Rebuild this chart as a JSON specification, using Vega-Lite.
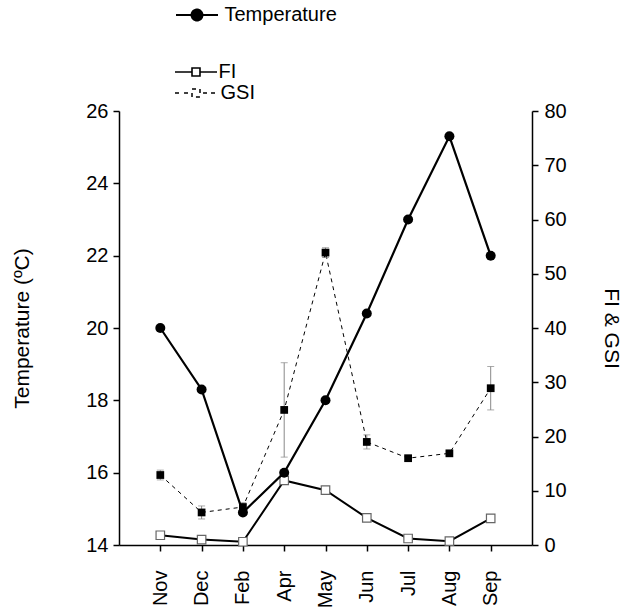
{
  "$schema": "https://vega.github.io/schema/vega-lite/v6.json",
  "width": 413,
  "height": 434,
  "autosize": {"type": "none"},
  "padding": {"left": 119, "top": 111, "right": 97, "bottom": 67},
  "background": "white",
  "data": {
    "values": [
      {"month": "Nov", "series": "Temperature", "value": 20.0, "err": 0},
      {"month": "Dec", "series": "Temperature", "value": 18.3, "err": 0},
      {"month": "Feb", "series": "Temperature", "value": 14.9, "err": 0},
      {"month": "Apr", "series": "Temperature", "value": 16.0, "err": 0},
      {"month": "May", "series": "Temperature", "value": 18.0, "err": 0},
      {"month": "Jun", "series": "Temperature", "value": 20.4, "err": 0},
      {"month": "Jul", "series": "Temperature", "value": 23.0, "err": 0},
      {"month": "Aug", "series": "Temperature", "value": 25.3, "err": 0},
      {"month": "Sep", "series": "Temperature", "value": 22.0, "err": 0},
      {"month": "Nov", "series": "FI", "value": 1.8, "err": 0},
      {"month": "Dec", "series": "FI", "value": 1.0, "err": 0},
      {"month": "Feb", "series": "FI", "value": 0.6, "err": 0},
      {"month": "Apr", "series": "FI", "value": 11.9, "err": 0},
      {"month": "May", "series": "FI", "value": 10.1, "err": 0},
      {"month": "Jun", "series": "FI", "value": 5.0, "err": 0},
      {"month": "Jul", "series": "FI", "value": 1.2, "err": 0},
      {"month": "Aug", "series": "FI", "value": 0.7, "err": 0},
      {"month": "Sep", "series": "FI", "value": 4.9, "err": 0},
      {"month": "Nov", "series": "GSI", "value": 12.9, "err": 0.9},
      {"month": "Dec", "series": "GSI", "value": 6.0, "err": 1.2},
      {"month": "Feb", "series": "GSI", "value": 7.0, "err": 0.8},
      {"month": "Apr", "series": "GSI", "value": 24.9, "err": 8.7},
      {"month": "May", "series": "GSI", "value": 53.9, "err": 0.9},
      {"month": "Jun", "series": "GSI", "value": 19.0, "err": 1.3},
      {"month": "Jul", "series": "GSI", "value": 16.0, "err": 0.5},
      {"month": "Aug", "series": "GSI", "value": 16.9, "err": 0.4},
      {"month": "Sep", "series": "GSI", "value": 28.9, "err": 4.0}
    ]
  },
  "layer": [
    {
      "layer": [
        {
          "transform": [{"filter": "datum.series === 'FI'"}],
          "mark": {"type": "line", "strokeWidth": 2},
          "encoding": {
            "x": {"field": "month", "type": "ordinal", "title": null, "scale": {"type": "point", "domain": ["Nov", "Dec", "Feb", "Apr", "May", "Jun", "Jul", "Aug", "Sep"], "padding": 1},
              "axis": {"labelAngle": -90, "labelPadding": 19, "labelOverlap": false, "labelFlush": false}},
            "y": {"field": "value", "type": "quantitative", "title": "FI & GSI", "scale": {"domain": [0, 80], "nice": false},
              "axis": {"orient": "right", "values": [0, 10, 20, 30, 40, 50, 60, 70, 80], "titleAngle": 90, "titlePadding": 34, "labelPadding": 6, "labelOverlap": false, "labelFlush": false}},
            "color": {"field": "series", "type": "nominal", "scale": {"domain": ["FI"], "range": ["black"]},
              "legend": {
                "orient": "none", "legendX": 65.5, "legendY": -50.5, "title": null, "padding": 0,
                "symbolSize": 441, "labelOffset": 11, "labelFontSize": 20, "labelFont": "Liberation Sans", "labelColor": "black",
                "symbolType": "M-2,0H-0.38M0.38,0H2M-0.38,-0.38H0.38V0.38H-0.38Z",
                "encode": {"symbols": {"update": {
                  "fill": {"value": "white"},
                  "stroke": {"value": "black"},
                  "strokeWidth": {"value": 1.6},
                  "strokeDash": {"value": [1, 0]}
                }}}
              }}
          }
        },
        {
          "transform": [{"filter": "datum.series === 'GSI'"}],
          "mark": {"type": "line", "strokeWidth": 1, "color": "black"},
          "encoding": {
            "x": {"field": "month", "type": "ordinal", "title": null},
            "y": {"field": "value", "type": "quantitative", "title": "FI & GSI"},
            "strokeDash": {"field": "series", "type": "nominal", "scale": {"domain": ["GSI"], "range": [[4, 4]]},
              "legend": {
                "orient": "none", "legendX": 65.5, "legendY": -29.5, "title": null, "padding": 0,
                "symbolSize": 441, "labelOffset": 13, "labelFontSize": 20, "labelFont": "Liberation Sans", "labelColor": "black",
                "symbolType": "M-2,0H-1.43M-1.14,0H-0.67M0.67,0H1.14M1.43,0H2M-0.38,-0.38H0.38V0.38H-0.38Z",
                "encode": {"symbols": {"update": {
                  "fill": {"value": "black"},
                  "stroke": {"value": "black"},
                  "strokeWidth": {"value": 1},
                  "strokeDash": {"value": [1, 0]}
                }}}
              }}
          }
        },
        {
          "transform": [{"filter": "datum.series === 'GSI'"}],
          "mark": {"type": "errorbar", "color": "#888888", "thickness": 1, "ticks": true, "size": 7},
          "encoding": {
            "x": {"field": "month", "type": "ordinal", "title": null},
            "y": {"field": "value", "type": "quantitative", "title": "FI & GSI"},
            "yError": {"field": "err"}
          }
        },
        {
          "transform": [{"filter": "datum.series === 'FI'"}],
          "mark": {"type": "square", "size": 72, "filled": true, "fill": "white", "stroke": "#666666", "strokeWidth": 1.2, "opacity": 1},
          "encoding": {
            "x": {"field": "month", "type": "ordinal", "title": null},
            "y": {"field": "value", "type": "quantitative", "title": "FI & GSI"}
          }
        },
        {
          "transform": [{"filter": "datum.series === 'GSI'"}],
          "mark": {"type": "square", "size": 60, "filled": true, "color": "black", "opacity": 1},
          "encoding": {
            "x": {"field": "month", "type": "ordinal", "title": null},
            "y": {"field": "value", "type": "quantitative", "title": "FI & GSI"}
          }
        }
      ]
    },
    {
      "transform": [{"filter": "datum.series === 'Temperature'"}],
      "layer": [
        {
          "mark": {"type": "line", "strokeWidth": 2.2},
          "encoding": {
            "x": {"field": "month", "type": "ordinal", "title": null},
            "y": {"field": "value", "type": "quantitative", "title": "Temperature (ºC)", "scale": {"domain": [14, 26], "nice": false},
              "axis": {"orient": "left", "values": [14, 16, 18, 20, 22, 24, 26], "titlePadding": 53, "labelPadding": 5, "labelOverlap": false, "labelFlush": false}},
            "color": {"field": "series", "type": "nominal", "scale": {"domain": ["Temperature"], "range": ["black"]},
              "legend": {
                "orient": "none", "legendX": 66.5, "legendY": -107.5, "title": null, "padding": 0,
                "symbolSize": 441, "labelOffset": 16, "labelFontSize": 20, "labelFont": "Liberation Sans", "labelColor": "black",
                "symbolType": "M-2,0H2M-0.52,0A0.52,0.52,0,1,0,0.52,0A0.52,0.52,0,1,0,-0.52,0Z",
                "encode": {"symbols": {"update": {
                  "fill": {"value": "black"},
                  "stroke": {"value": "black"},
                  "strokeWidth": {"value": 2},
                  "strokeDash": {"value": [1, 0]}
                }}}
              }}
          }
        },
        {
          "mark": {"type": "circle", "size": 100, "color": "black", "opacity": 1},
          "encoding": {
            "x": {"field": "month", "type": "ordinal", "title": null},
            "y": {"field": "value", "type": "quantitative", "title": "Temperature (ºC)"}
          }
        }
      ]
    }
  ],
  "resolve": {"scale": {"y": "independent", "color": "independent"}},
  "config": {
    "view": {"stroke": null},
    "font": "Liberation Sans",
    "axis": {
      "domainColor": "black", "domainWidth": 1.5, "tickColor": "black", "tickWidth": 1.5, "tickSize": 6,
      "labelColor": "black", "labelFontSize": 20, "labelFont": "Liberation Sans",
      "titleFont": "Liberation Sans", "titleFontSize": 21, "titleFontWeight": "normal", "titleColor": "black",
      "grid": false
    }
  }
}
